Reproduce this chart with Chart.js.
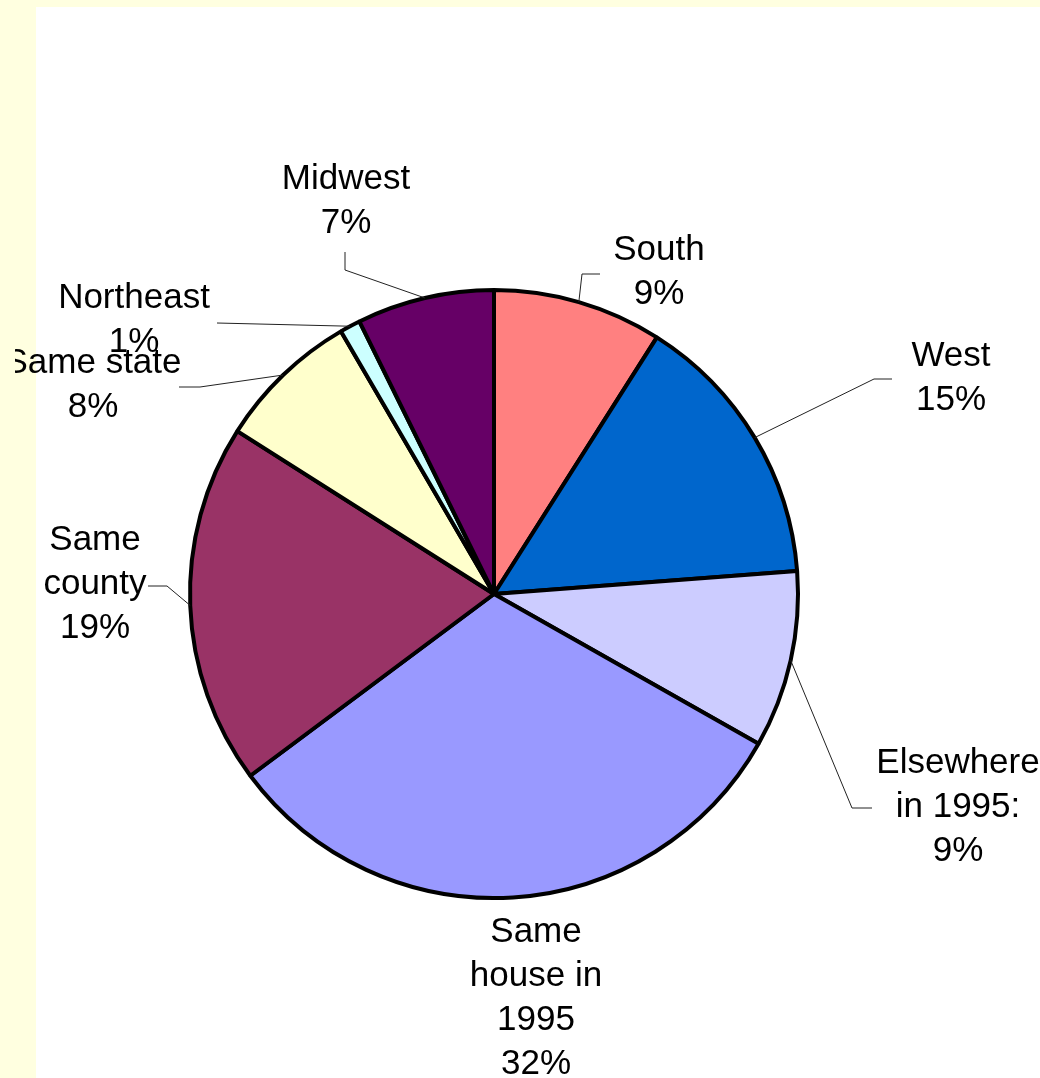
<!DOCTYPE html>
<html>
<head>
<meta charset="utf-8">
<script src="https://cdn.jsdelivr.net/npm/chart.js@4/dist/chart.umd.min.js"></script>
<style>
  html, body { margin: 0; padding: 0; background: #ffffff; }
  #wrap { width: 1040px; height: 1078px; }
</style>
</head>
<body>
<div id="wrap"><canvas id="pieChart" width="1040" height="1078"></canvas></div>
<script>
// categories (each label split into the lines shown on the chart)
const categories = [
    ['South'],
    ['West'],
    ['Elsewhere', 'in 1995:'],
    ['Same', 'house in', '1995'],
    ['Same', 'county'],
    ['Same state'],
    ['Northeast'],
    ['Midwest']
];

// share of people, percent
const shares = [9.0, 14.8, 9.4, 31.6, 19.2, 7.6, 1.1, 7.3];

const sliceColors = ['#FF8080', '#0066CC', '#CCCCFF', '#9999FF', '#993366', '#FFFFCC', '#CCFFFF', '#660066'];

// where each label sits, relative to the pie centre (px): text = first baseline, leader = stub points
const labelLayout = [
    { text: [165, -334], leader: [[106, -320], [88, -320]] },
    { text: [457, -228], leader: [[398, -215], [380, -215]] },
    { text: [464, 179], leader: [[378, 214], [358, 214]] },
    { text: [42, 348], leader: null },
    { text: [-399, -44], leader: [[-346, -8], [-327, -8]] },
    { text: [-401, -221], leader: [[-315, -207], [-294, -207]] },
    { text: [-360, -286], leader: [[-277, -271]] },
    { text: [-148, -405], leader: [[-149, -342], [-149, -324]] }
];

const lineHeight = 44;

const framePlugin = {
    id: 'frame',
    beforeDraw(chart) {
        const ctx = chart.ctx;
        ctx.save();
        ctx.fillStyle = '#ffffff';
        ctx.fillRect(0, 0, chart.width, chart.height);
        ctx.fillStyle = '#FFFFE0';
        ctx.fillRect(0, 0, chart.width, 7);
        ctx.fillRect(0, 0, 36, chart.height);
        ctx.restore();
    }
};

const labelPlugin = {
    id: 'sliceLabels',
    afterDraw(chart) {
        const ctx = chart.ctx;
        const meta = chart.getDatasetMeta(0);
        const data = chart.data.datasets[0].data;
        const total = data.reduce((a, b) => a + b, 0);

        ctx.save();
        ctx.beginPath();
        ctx.rect(15, 0, chart.width, chart.height);
        ctx.clip();

        meta.data.forEach((arc, i) => {
            const cx = arc.x;
            const cy = arc.y;
            const lay = labelLayout[i];

            // leader line from the middle of the slice edge
            if (lay.leader) {
                const mid = (arc.startAngle + arc.endAngle) / 2;
                const ax = cx + Math.cos(mid) * arc.outerRadius;
                const ay = cy + Math.sin(mid) * arc.outerRadius;
                ctx.beginPath();
                ctx.strokeStyle = '#222222';
                ctx.lineWidth = 1;
                ctx.moveTo(cx + lay.leader[0][0], cy + lay.leader[0][1]);
                for (let k = 1; k < lay.leader.length; k++) {
                    ctx.lineTo(cx + lay.leader[k][0], cy + lay.leader[k][1]);
                }
                ctx.lineTo(ax, ay);
                ctx.stroke();
            }

            const lines = chart.data.labels[i].concat([Math.round(data[i] / total * 100) + '%']);
            ctx.fillStyle = '#000000';
            ctx.font = '35px "Liberation Sans", Arial, sans-serif';
            ctx.textAlign = 'center';
            ctx.textBaseline = 'alphabetic';
            lines.forEach((txt, j) => {
                ctx.fillText(txt, cx + lay.text[0], cy + lay.text[1] + j * lineHeight);
            });
        });
        ctx.restore();
    }
};

const ctx = document.getElementById('pieChart').getContext('2d');
window.myChart = new Chart(ctx, {
    type: 'pie',
    data: {
        labels: categories,
        datasets: [{
            data: shares,
            backgroundColor: sliceColors,
            borderColor: '#000000',
            borderWidth: 4,
            hoverOffset: 0,
            offset: 0
        }]
    },
    options: {
        responsive: false,
        animation: false,
        events: [],
        layout: {
            padding: { left: 188, top: 288, right: 240, bottom: 178 }
        },
        plugins: {
            legend: { display: false },
            tooltip: { enabled: false }
        }
    },
    plugins: [framePlugin, labelPlugin]
});
</script>
</body>
</html>
